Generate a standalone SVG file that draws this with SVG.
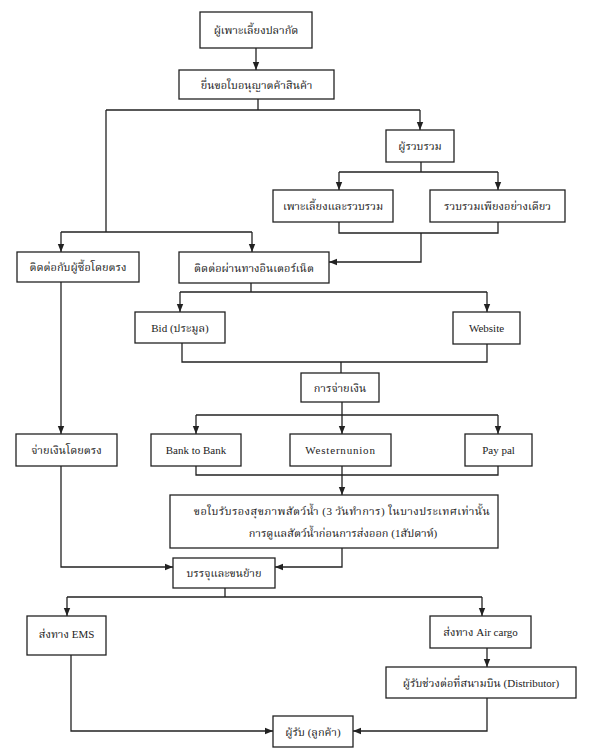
<svg xmlns="http://www.w3.org/2000/svg" width="591" height="755" viewBox="0 0 591 755">
<defs>
<style>
.box{fill:#fff;stroke:#222;stroke-width:1.3}
.ln{fill:none;stroke:#222;stroke-width:1.3}
.t{font-family:"Liberation Serif","Noto Serif Thai","Noto Sans Thai","DejaVu Serif",serif;font-size:11px;fill:#222;text-anchor:middle;dominant-baseline:central}
</style>
<marker id="ah" markerUnits="userSpaceOnUse" markerWidth="8" markerHeight="8" viewBox="0 0 8 8" refX="8" refY="4" orient="auto">
<path d="M0,0.8 L8,4 L0,7.2 Z" fill="#222"/>
</marker>
</defs>
<rect width="591" height="755" fill="#fff"/>
<g id="connectors">
<path class="ln" d="M256,48 V70" marker-end="url(#ah)"/>
<path class="ln" d="M258,99 V110 M106,110 H420"/>
<path class="ln" d="M420,110 V130" marker-end="url(#ah)"/>
<path class="ln" d="M106,110 V232 M61,232 H252"/>
<path class="ln" d="M61,232 V252" marker-end="url(#ah)"/>
<path class="ln" d="M252,232 V252" marker-end="url(#ah)"/>
<path class="ln" d="M421,162 V172 M339,172 H498"/>
<path class="ln" d="M339,172 V190" marker-end="url(#ah)"/>
<path class="ln" d="M498,172 V190" marker-end="url(#ah)"/>
<path class="ln" d="M339,222 V233 H498 V222"/>
<path class="ln" d="M421,233 V262 H329" marker-end="url(#ah)"/>
<path class="ln" d="M61,282 V434" marker-end="url(#ah)"/>
<path class="ln" d="M251,283 V292 M180,292 H487"/>
<path class="ln" d="M180,292 V312" marker-end="url(#ah)"/>
<path class="ln" d="M487,292 V312" marker-end="url(#ah)"/>
<path class="ln" d="M182,343 V362 H487 V344 M341,362 V373"/>
<path class="ln" d="M342,402 V434" marker-end="url(#ah)"/>
<path class="ln" d="M196,415 H498"/>
<path class="ln" d="M196,415 V434" marker-end="url(#ah)"/>
<path class="ln" d="M498,415 V434" marker-end="url(#ah)"/>
<path class="ln" d="M196,466 V475 H498 V466"/>
<path class="ln" d="M342,466 V495" marker-end="url(#ah)"/>
<path class="ln" d="M342,548 V567 H275" marker-end="url(#ah)"/>
<path class="ln" d="M61,466 V567 H173" marker-end="url(#ah)"/>
<path class="ln" d="M225,588 V597 M67,597 H482"/>
<path class="ln" d="M67,597 V616" marker-end="url(#ah)"/>
<path class="ln" d="M482,597 V616" marker-end="url(#ah)"/>
<path class="ln" d="M487,648 V667" marker-end="url(#ah)"/>
<path class="ln" d="M71,655 V731 H273" marker-end="url(#ah)"/>
<path class="ln" d="M487,698 V731 H353" marker-end="url(#ah)"/>
</g>
<g id="n1"><rect class="box" x="200" y="12" width="112" height="36"/><text class="t" x="256" y="30">ผู้เพาะเลี้ยงปลากัด</text></g>
<g id="n2"><rect class="box" x="179" y="70" width="155" height="29"/><text class="t" x="256.5" y="84.5">ยื่นขอใบอนุญาตค้าสินค้า</text></g>
<g id="n3"><rect class="box" x="386" y="130" width="68" height="32"/><text class="t" x="420" y="146">ผู้รวบรวม</text></g>
<g id="n4"><rect class="box" x="273" y="190" width="120" height="32"/><text class="t" x="333" y="206">เพาะเลี้ยงและรวบรวม</text></g>
<g id="n5"><rect class="box" x="430" y="190" width="135" height="32"/><text class="t" x="497.5" y="206">รวบรวมเพียงอย่างเดียว</text></g>
<g id="n6"><rect class="box" x="17" y="252" width="122" height="30"/><text class="t" x="78" y="267">ติดต่อกับผู้ซื้อโดยตรง</text></g>
<g id="n7"><rect class="box" x="179" y="252" width="150" height="31"/><text class="t" x="254" y="267.5">ติดต่อผ่านทางอินเตอร์เน็ต</text></g>
<g id="n8"><rect class="box" x="135" y="312" width="90" height="31"/><text class="t" x="180" y="327.5">Bid (ประมูล)</text></g>
<g id="n9"><rect class="box" x="453" y="312" width="67" height="32"/><text class="t" x="486.5" y="328">Website</text></g>
<g id="n10"><rect class="box" x="301" y="373" width="78" height="29"/><text class="t" x="340" y="387.5">การจ่ายเงิน</text></g>
<g id="n11"><rect class="box" x="16" y="434" width="101" height="32"/><text class="t" x="66.5" y="450">จ่ายเงินโดยตรง</text></g>
<g id="n12"><rect class="box" x="151" y="434" width="90" height="32"/><text class="t" x="196" y="450">Bank to Bank</text></g>
<g id="n13"><rect class="box" x="290" y="434" width="101" height="32"/><text class="t" x="340.5" y="450" letter-spacing="0.8">Westernunion</text></g>
<g id="n14"><rect class="box" x="465" y="434" width="67" height="32"/><text class="t" x="498.5" y="450">Pay pal</text></g>
<g id="n15"><rect class="box" x="170" y="495" width="328" height="53"/><text class="t" x="342" y="511" letter-spacing="0.4">ขอใบรับรองสุขภาพสัตว์น้ำ (3 วันทำการ) ในบางประเทศเท่านั้น</text><text class="t" x="343" y="533">การดูแลสัตว์น้ำก่อนการส่งออก (1สัปดาห์)</text></g>
<g id="n16"><rect class="box" x="173" y="558" width="102" height="30"/><text class="t" x="224" y="573">บรรจุและขนย้าย</text></g>
<g id="n17"><rect class="box" x="27" y="616" width="79" height="39"/><text class="t" x="66.5" y="634">ส่งทาง EMS</text></g>
<g id="n18"><rect class="box" x="430" y="616" width="101" height="32"/><text class="t" x="480.5" y="632">ส่งทาง Air cargo</text></g>
<g id="n19"><rect class="box" x="386" y="667" width="190" height="31"/><text class="t" x="481" y="682.5">ผู้รับช่วงต่อที่สนามบิน (Distributor)</text></g>
<g id="n20"><rect class="box" x="273" y="716" width="80" height="31"/><text class="t" x="313" y="731.5">ผู้รับ (ลูกค้า)</text></g>
</svg>
